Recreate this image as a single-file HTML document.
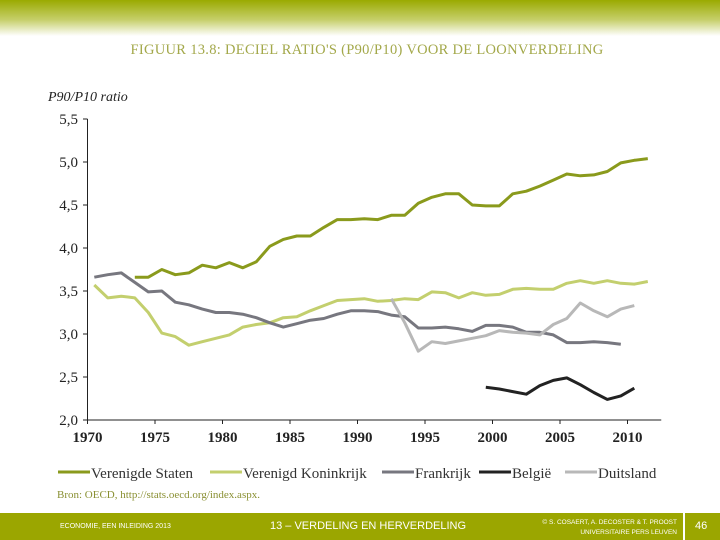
<!DOCTYPE html>
<html><head><meta charset="utf-8"><style>
body{margin:0;width:720px;height:540px;overflow:hidden;background:#fff;font-family:"Liberation Serif",serif;position:relative}
#hdr{position:absolute;left:0;top:0;width:720px;height:36px;background:linear-gradient(#9aaa00,#c6cf6a 55%,#fff)}
#title{position:absolute;top:42px;left:0;width:734px;text-align:center;color:#a3a84a;font-size:14.5px;letter-spacing:0.3px}
#ftr{position:absolute;left:0;top:513px;width:720px;height:27px;background:#9ba600;color:#fff;font-family:"Liberation Sans",sans-serif}
</style></head><body>
<div id="hdr"></div>
<div id="title">FIGUUR 13.8: DECIEL RATIO'S (P90/P10) VOOR DE LOONVERDELING</div>
<svg id="chart" width="720" height="540" style="position:absolute;left:0;top:0"></svg>
<div id="ftr">
<span style="position:absolute;left:60px;top:10px;font-size:7px">ECONOMIE, EEN INLEIDING 2013</span>
<span style="position:absolute;left:270px;top:7px;font-size:11px">13 – VERDELING EN HERVERDELING</span>
<span style="position:absolute;left:540px;top:5px;font-size:6.5px;text-align:right;width:137px;line-height:10px">© S. COSAERT, A. DECOSTER &amp; T. PROOST<br>UNIVERSITAIRE PERS LEUVEN</span>
<div style="position:absolute;left:683px;top:0;width:2px;height:27px;background:#fff"></div>
<span style="position:absolute;left:695px;top:7px;font-size:11px">46</span>
</div>
<script>
const years={us:1973,uk:1970,fr:1970,be:1999,de:1992};
const usVals=[3.66,3.66,3.75,3.69,3.71,3.80,3.77,3.83,3.77,3.84,4.02,4.10,4.14,4.14,4.24,4.33,4.33,4.34,4.33,4.38,4.38,4.52,4.59,4.63,4.63,4.50,4.49,4.49,4.63,4.66,4.72,4.79,4.86,4.84,4.85,4.89,4.99,5.02,5.04];
const ukVals=[3.57,3.42,3.44,3.42,3.25,3.01,2.97,2.87,2.91,2.95,2.99,3.08,3.11,3.13,3.19,3.20,3.27,3.33,3.39,3.40,3.41,3.38,3.39,3.41,3.40,3.49,3.48,3.42,3.48,3.45,3.46,3.52,3.53,3.52,3.52,3.59,3.62,3.59,3.62,3.59,3.58,3.61];
const frVals=[3.66,3.69,3.71,3.60,3.49,3.50,3.37,3.34,3.29,3.25,3.25,3.23,3.19,3.13,3.08,3.12,3.16,3.18,3.23,3.27,3.27,3.26,3.22,3.20,3.07,3.07,3.08,3.06,3.03,3.10,3.10,3.08,3.02,3.02,2.99,2.90,2.90,2.91,2.90,2.88];
const beVals=[2.38,2.36,2.33,2.30,2.40,2.46,2.49,2.41,2.32,2.24,2.28,2.37];
const deVals=[3.41,3.13,2.80,2.91,2.89,2.92,2.95,2.98,3.04,3.02,3.01,2.99,3.11,3.18,3.36,3.27,3.20,3.29,3.33];
const xTicks=[1970,1975,1980,1985,1990,1995,2000,2005,2010];
const yTicks=[2.0,2.5,3.0,3.5,4.0,4.5,5.0,5.5];
const seriesNames=["Verenigde Staten","Verenigd Koninkrijk","Frankrijk","België","Duitsland"];
const svg=document.getElementById('chart');const NS="http://www.w3.org/2000/svg";
const X=y=>87.5+(y-1970)*13.5, Y=v=>420-(v-2)*86;
function mk(t,a,p){const e=document.createElementNS(NS,t);for(const k in a)e.setAttribute(k,a[k]);(p||svg).appendChild(e);return e;}
let ax=mk('path',{d:`M87.5 ${Y(5.5)}V420H${X(2012.5)}`,stroke:'#222',fill:'none','stroke-width':1});

yTicks.forEach(v=>{mk('line',{x1:83,x2:87.5,y1:Y(v),y2:Y(v),stroke:'#222'});
 const t=mk('text',{x:78,y:Y(v)+5,'text-anchor':'end','font-size':15,fill:'#222'});t.textContent=v.toFixed(1).replace('.',',');
 });
xTicks.forEach(v=>{mk('line',{x1:X(v),x2:X(v),y1:420,y2:424,stroke:'#222'});
 const t=mk('text',{x:X(v),y:442,'text-anchor':'middle','font-size':15,'font-weight':'bold',fill:'#222'});t.textContent=v;
 });
const yt=mk('text',{x:48,y:101,'font-size':14,'font-style':'italic',fill:'#222'});yt.textContent='P90/P10 ratio';

const S=[['us',usVals,'#8a9a1c'],['uk',ukVals,'#c3cf6e'],['fr',frVals,'#77777f'],['be',beVals,'#222'],['de',deVals,'#b8b8b8']];
S.forEach(([k,vals,c],i)=>{const d=vals.map((v,j)=>(j?'L':'M')+X(years[k]+j+0.5).toFixed(1)+' '+Y(v).toFixed(1)).join('');
 const p=mk('path',{d:d,stroke:c,fill:'none','stroke-width':3,'stroke-linejoin':'round'});
 });
const lx=[58,210,382,479,565];
S.forEach(([k,v,c],i)=>{const g=mk('g',{});
 
 mk('line',{x1:lx[i],x2:lx[i]+32,y1:472,y2:472,stroke:c,'stroke-width':3},g);
 const t=mk('text',{x:lx[i]+33,y:478,'font-size':15,fill:'#333'},g);t.textContent=seriesNames[i];});
const src=mk('text',{x:57,y:498,'font-size':11,fill:'#8a9033'});src.textContent='Bron: OECD, http://stats.oecd.org/index.aspx.';

</script>
</body></html>
